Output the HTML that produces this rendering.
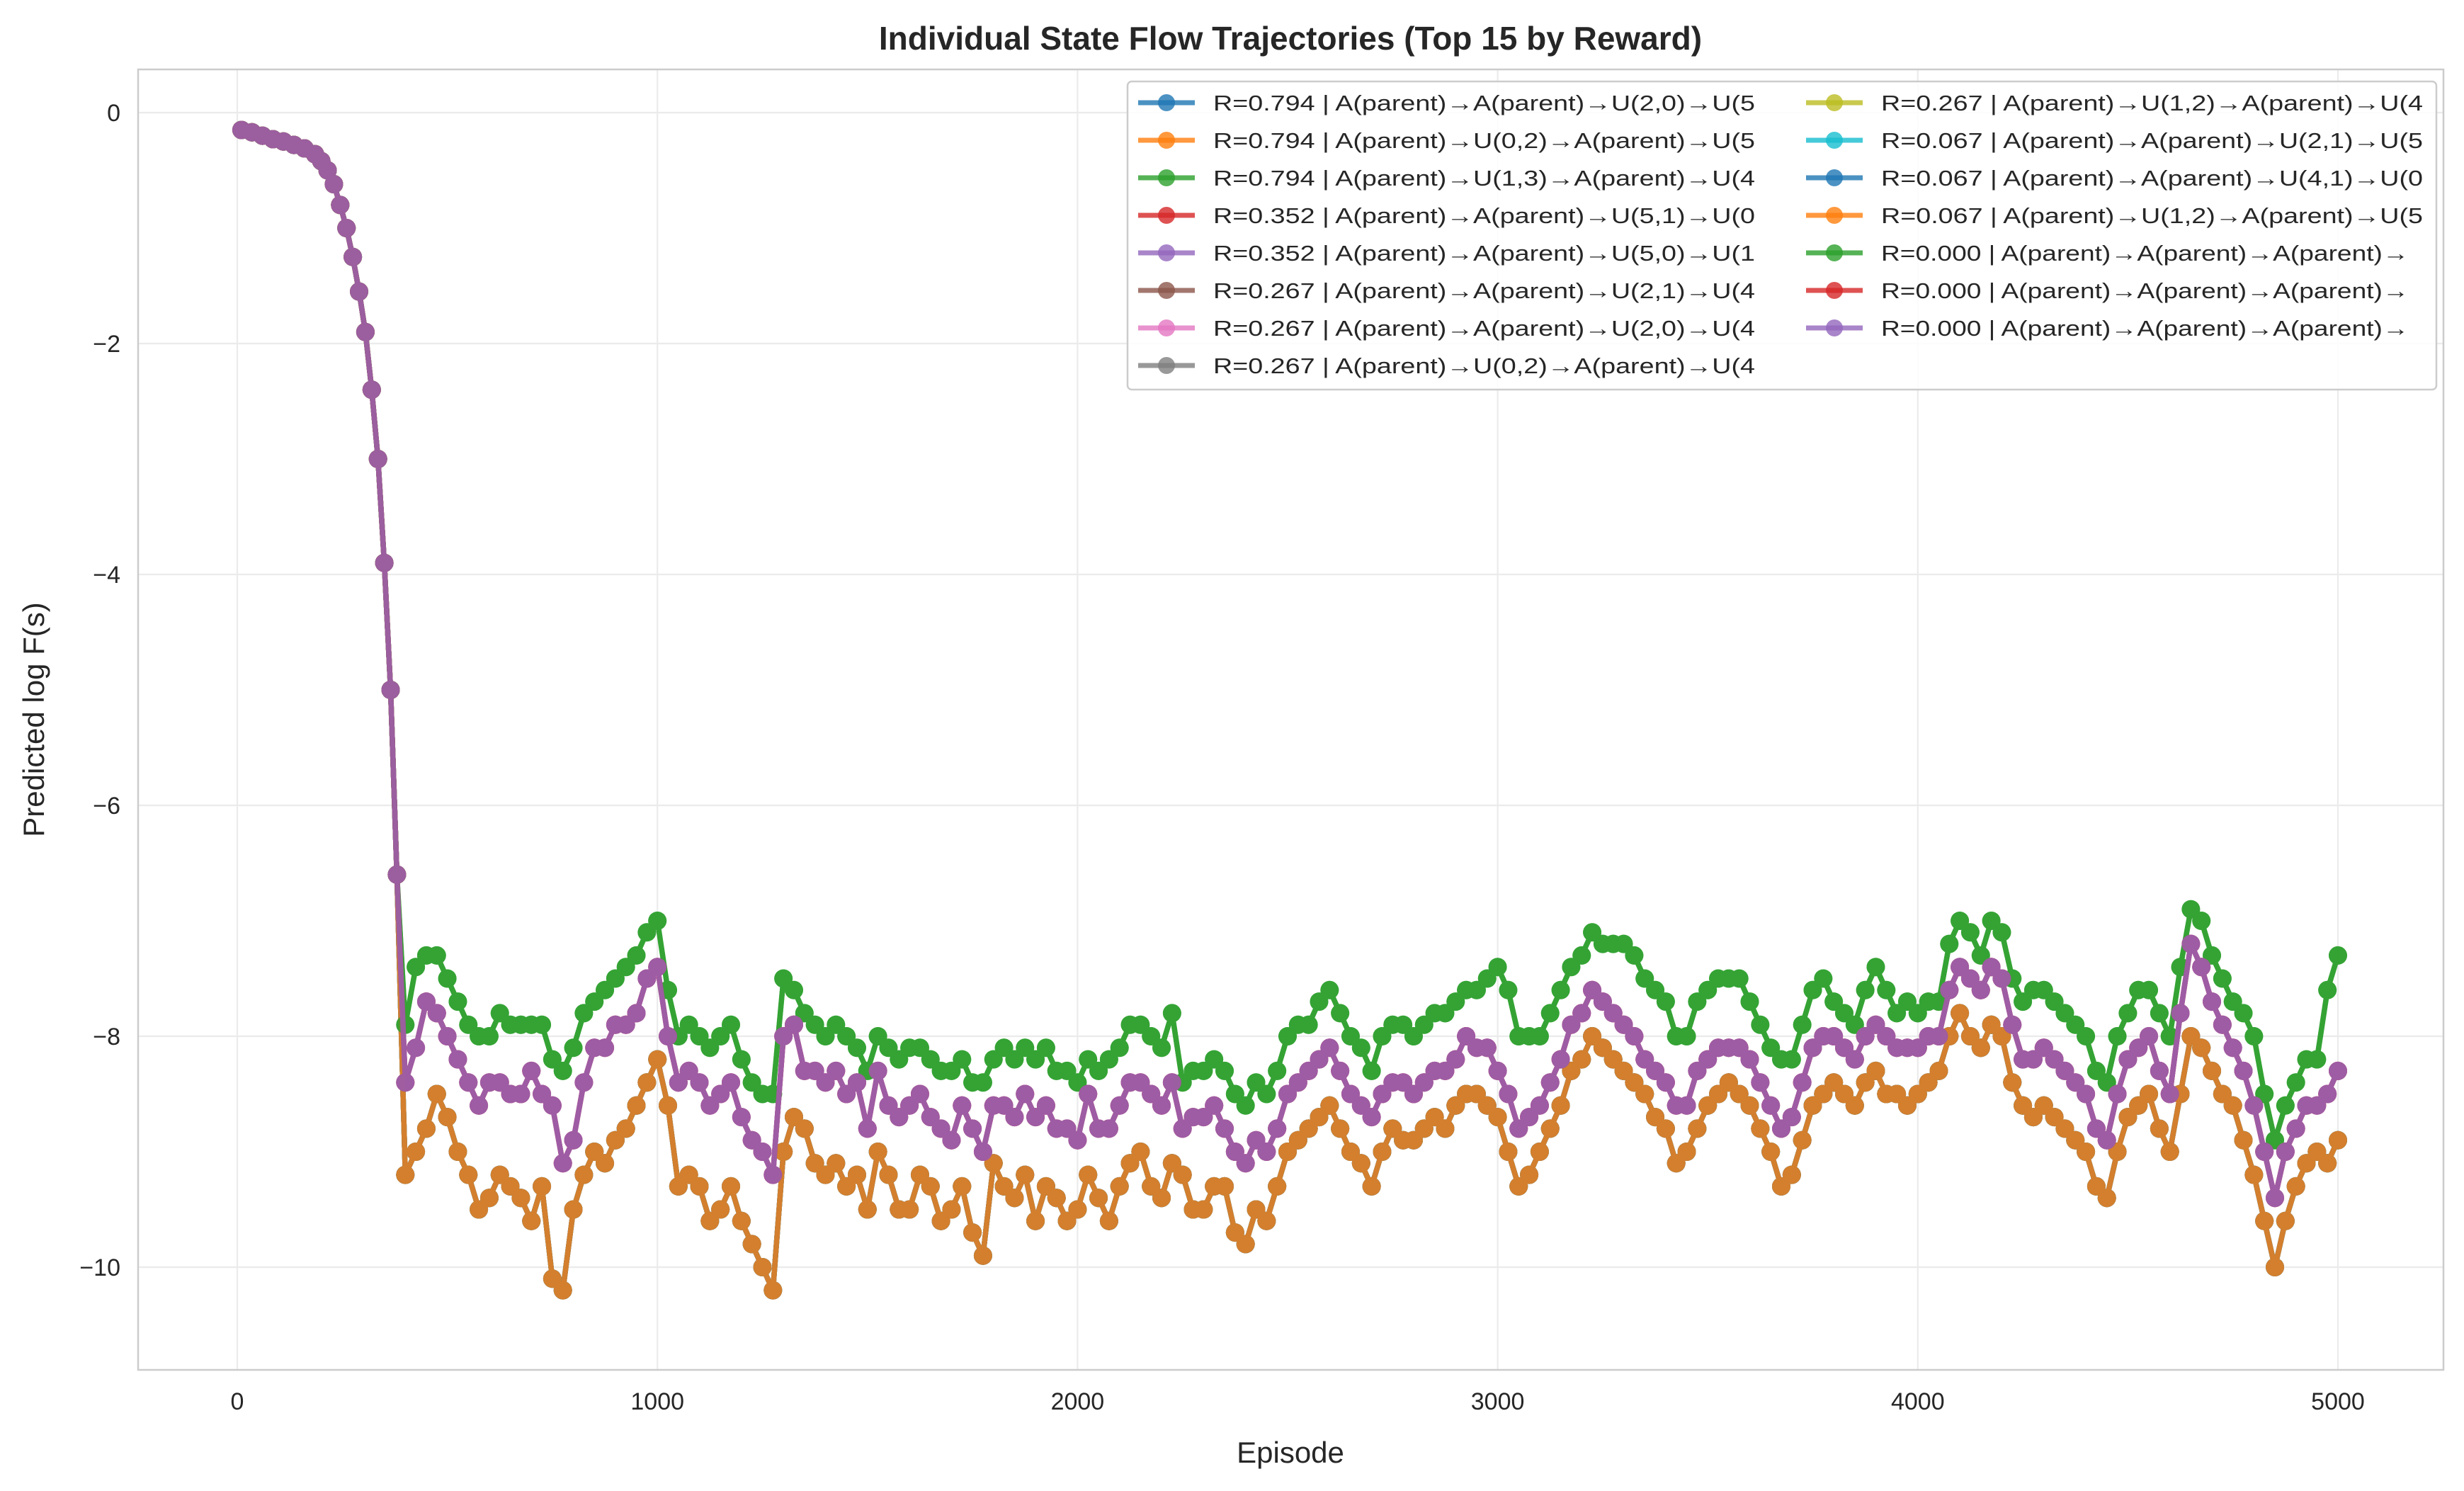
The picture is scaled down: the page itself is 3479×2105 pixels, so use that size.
<!DOCTYPE html>
<html><head><meta charset="utf-8"><style>
body{margin:0;background:#fff;}
svg{display:block;font-family:"Liberation Sans",Arial,sans-serif;}
</style></head><body>
<svg id="chart" width="3479" height="2105" viewBox="0 0 3479 2105">
<rect x="0" y="0" width="3479" height="2105" fill="#fff"/>
<text x="1822" y="70" text-anchor="middle" font-size="46" font-weight="bold" fill="#262626">Individual State Flow Trajectories (Top 15 by Reward)</text>
<g id="grid"></g>
<g id="series"></g>
<rect x="195" y="98" width="3255" height="1836" fill="none" stroke="#cccccc" stroke-width="2.5"/>
<g id="ticks"></g>
<text x="1822" y="2065" text-anchor="middle" font-size="42" fill="#262626">Episode</text>
<text x="62" y="1016" text-anchor="middle" font-size="42" fill="#262626" transform="rotate(-90 62 1016)">Predicted log F(s)</text>
<g id="legend"></g>
</svg>
<script>
const earlyEpisodes=[10,35,60,85,110,135,160,185,200,215,230,245,260,275,290,305,320,335,350,365,380];
const earlyValues=[-0.15,-0.17,-0.2,-0.23,-0.25,-0.28,-0.31,-0.36,-0.42,-0.5,-0.62,-0.8,-1.0,-1.25,-1.55,-1.9,-2.4,-3.0,-3.9,-5.0,-6.6];
const lateEpisodes=[];
for(let e=400;e<=5000;e+=25)lateEpisodes.push(e);
const lowGroup=[-9.2,-9.0,-8.8,-8.5,-8.7,-9.0,-9.2,-9.5,-9.4,-9.2,-9.3,-9.4,-9.6,-9.3,-10.1,-10.2,-9.5,-9.2,-9.0,-9.1,-8.9,-8.8,-8.6,-8.4,-8.2,-8.6,-9.3,-9.2,-9.3,-9.6,-9.5,-9.3,-9.6,-9.8,-10.0,-10.2,-9.0,-8.7,-8.8,-9.1,-9.2,-9.1,-9.3,-9.2,-9.5,-9.0,-9.2,-9.5,-9.5,-9.2,-9.3,-9.6,-9.5,-9.3,-9.7,-9.9,-9.1,-9.3,-9.4,-9.2,-9.6,-9.3,-9.4,-9.6,-9.5,-9.2,-9.4,-9.6,-9.3,-9.1,-9.0,-9.3,-9.4,-9.1,-9.2,-9.5,-9.5,-9.3,-9.3,-9.7,-9.8,-9.5,-9.6,-9.3,-9.0,-8.9,-8.8,-8.7,-8.6,-8.8,-9.0,-9.1,-9.3,-9.0,-8.8,-8.9,-8.9,-8.8,-8.7,-8.8,-8.6,-8.5,-8.5,-8.6,-8.7,-9.0,-9.3,-9.2,-9.0,-8.8,-8.6,-8.3,-8.2,-8.0,-8.1,-8.2,-8.3,-8.4,-8.5,-8.7,-8.8,-9.1,-9.0,-8.8,-8.6,-8.5,-8.4,-8.5,-8.6,-8.8,-9.0,-9.3,-9.2,-8.9,-8.6,-8.5,-8.4,-8.5,-8.6,-8.4,-8.3,-8.5,-8.5,-8.6,-8.5,-8.4,-8.3,-8.0,-7.8,-8.0,-8.1,-7.9,-8.0,-8.4,-8.6,-8.7,-8.6,-8.7,-8.8,-8.9,-9.0,-9.3,-9.4,-9.0,-8.7,-8.6,-8.5,-8.8,-9.0,-8.5,-8.0,-8.1,-8.3,-8.5,-8.6,-8.9,-9.2,-9.6,-10.0,-9.6,-9.3,-9.1,-9.0,-9.1,-8.9];
const midGroup=[-8.4,-8.1,-7.7,-7.8,-8.0,-8.2,-8.4,-8.6,-8.4,-8.4,-8.5,-8.5,-8.3,-8.5,-8.6,-9.1,-8.9,-8.4,-8.1,-8.1,-7.9,-7.9,-7.8,-7.5,-7.4,-8.0,-8.4,-8.3,-8.4,-8.6,-8.5,-8.4,-8.7,-8.9,-9.0,-9.2,-8.0,-7.9,-8.3,-8.3,-8.4,-8.3,-8.5,-8.4,-8.8,-8.3,-8.6,-8.7,-8.6,-8.5,-8.7,-8.8,-8.9,-8.6,-8.8,-9.0,-8.6,-8.6,-8.7,-8.5,-8.7,-8.6,-8.8,-8.8,-8.9,-8.5,-8.8,-8.8,-8.6,-8.4,-8.4,-8.5,-8.6,-8.4,-8.8,-8.7,-8.7,-8.6,-8.8,-9.0,-9.1,-8.9,-9.0,-8.8,-8.5,-8.4,-8.3,-8.2,-8.1,-8.3,-8.5,-8.6,-8.7,-8.5,-8.4,-8.4,-8.5,-8.4,-8.3,-8.3,-8.2,-8.0,-8.1,-8.1,-8.3,-8.5,-8.8,-8.7,-8.6,-8.4,-8.2,-7.9,-7.8,-7.6,-7.7,-7.8,-7.9,-8.0,-8.2,-8.3,-8.4,-8.6,-8.6,-8.3,-8.2,-8.1,-8.1,-8.1,-8.2,-8.4,-8.6,-8.8,-8.7,-8.4,-8.1,-8.0,-8.0,-8.1,-8.2,-8.0,-7.9,-8.0,-8.1,-8.1,-8.1,-8.0,-8.0,-7.6,-7.4,-7.5,-7.6,-7.4,-7.5,-7.9,-8.2,-8.2,-8.1,-8.2,-8.3,-8.4,-8.5,-8.8,-8.9,-8.5,-8.2,-8.1,-8.0,-8.3,-8.5,-7.8,-7.2,-7.4,-7.7,-7.9,-8.1,-8.3,-8.6,-9.0,-9.4,-9.0,-8.8,-8.6,-8.6,-8.5,-8.3];
const highGroup=[-7.9,-7.4,-7.3,-7.3,-7.5,-7.7,-7.9,-8.0,-8.0,-7.8,-7.9,-7.9,-7.9,-7.9,-8.2,-8.3,-8.1,-7.8,-7.7,-7.6,-7.5,-7.4,-7.3,-7.1,-7.0,-7.6,-8.0,-7.9,-8.0,-8.1,-8.0,-7.9,-8.2,-8.4,-8.5,-8.5,-7.5,-7.6,-7.8,-7.9,-8.0,-7.9,-8.0,-8.1,-8.3,-8.0,-8.1,-8.2,-8.1,-8.1,-8.2,-8.3,-8.3,-8.2,-8.4,-8.4,-8.2,-8.1,-8.2,-8.1,-8.2,-8.1,-8.3,-8.3,-8.4,-8.2,-8.3,-8.2,-8.1,-7.9,-7.9,-8.0,-8.1,-7.8,-8.4,-8.3,-8.3,-8.2,-8.3,-8.5,-8.6,-8.4,-8.5,-8.3,-8.0,-7.9,-7.9,-7.7,-7.6,-7.8,-8.0,-8.1,-8.3,-8.0,-7.9,-7.9,-8.0,-7.9,-7.8,-7.8,-7.7,-7.6,-7.6,-7.5,-7.4,-7.6,-8.0,-8.0,-8.0,-7.8,-7.6,-7.4,-7.3,-7.1,-7.2,-7.2,-7.2,-7.3,-7.5,-7.6,-7.7,-8.0,-8.0,-7.7,-7.6,-7.5,-7.5,-7.5,-7.7,-7.9,-8.1,-8.2,-8.2,-7.9,-7.6,-7.5,-7.7,-7.8,-7.9,-7.6,-7.4,-7.6,-7.8,-7.7,-7.8,-7.7,-7.7,-7.2,-7.0,-7.1,-7.3,-7.0,-7.1,-7.5,-7.7,-7.6,-7.6,-7.7,-7.8,-7.9,-8.0,-8.3,-8.4,-8.0,-7.8,-7.6,-7.6,-7.8,-8.0,-7.4,-6.9,-7.0,-7.3,-7.5,-7.7,-7.8,-8.0,-8.5,-8.9,-8.6,-8.4,-8.2,-8.2,-7.6,-7.3];
const seriesLabels=["R=0.794 | A(parent)→A(parent)→U(2,0)→U(5","R=0.794 | A(parent)→U(0,2)→A(parent)→U(5","R=0.794 | A(parent)→U(1,3)→A(parent)→U(4","R=0.352 | A(parent)→A(parent)→U(5,1)→U(0","R=0.352 | A(parent)→A(parent)→U(5,0)→U(1","R=0.267 | A(parent)→A(parent)→U(2,1)→U(4","R=0.267 | A(parent)→A(parent)→U(2,0)→U(4","R=0.267 | A(parent)→U(0,2)→A(parent)→U(4","R=0.267 | A(parent)→U(1,2)→A(parent)→U(4","R=0.067 | A(parent)→A(parent)→U(2,1)→U(5","R=0.067 | A(parent)→A(parent)→U(4,1)→U(0","R=0.067 | A(parent)→U(1,2)→A(parent)→U(5","R=0.000 | A(parent)→A(parent)→A(parent)→","R=0.000 | A(parent)→A(parent)→A(parent)→","R=0.000 | A(parent)→A(parent)→A(parent)→"];
const seriesValues=[lowGroup,lowGroup,highGroup,midGroup,midGroup,lowGroup,lowGroup,lowGroup,lowGroup,lowGroup,lowGroup,lowGroup,highGroup,midGroup,midGroup];
const xTicks=[0,1000,2000,3000,4000,5000];
const yTicks=[0,-2,-4,-6,-8,-10];
const colors=["#1f77b4","#ff7f0e","#2ca02c","#d62728","#9467bd","#8c564b","#e377c2","#7f7f7f","#bcbd22","#17becf","#1f77b4","#ff7f0e","#2ca02c","#d62728","#9467bd"];

const NS="http://www.w3.org/2000/svg";
const L=195,R=3450,T=98,B=1934;
function xs(e){return 335+e*(3301-335)/5000;}
function ys(v){return 159-v*163;}
function mk(tag,attrs,parent){const el=document.createElementNS(NS,tag);for(const k in attrs)el.setAttribute(k,attrs[k]);parent.appendChild(el);return el;}
const grid=document.getElementById('grid'),ticks=document.getElementById('ticks');
xTicks.forEach(t=>{
  const g=mk('line',{x1:xs(t),x2:xs(t),y1:T,y2:B,stroke:'#ebebeb','stroke-width':2.2},grid);
  
  
  const tx=mk('text',{x:xs(t),y:1990,'text-anchor':'middle','font-size':34,fill:'#262626'},ticks);
  tx.textContent=t;
  
  
});
yTicks.forEach(t=>{
  const g=mk('line',{x1:L,x2:R,y1:ys(t),y2:ys(t),stroke:'#ebebeb','stroke-width':2.2},grid);
  
  
  const tx=mk('text',{x:170,y:ys(t)+12,'text-anchor':'end','font-size':34,fill:'#262626'},ticks);
  tx.textContent=t===0?'0':'−'+Math.abs(t);
  
  
});
const allEpisodes=earlyEpisodes.concat(lateEpisodes);
const sl=document.getElementById('series');
seriesValues.forEach((vals,i)=>{
  const full=earlyValues.concat(vals);
  const g=mk('g',{opacity:0.8},sl);
  
  
  const pts=full.map((v,j)=>xs(allEpisodes[j]).toFixed(1)+','+ys(v).toFixed(1)).join(' ');
  const pl=mk('polyline',{points:pts,fill:'none',stroke:colors[i],'stroke-width':7.5,'stroke-linejoin':'round'},g);
  
  
  full.forEach((v,j)=>{
    const c=mk('circle',{cx:xs(allEpisodes[j]),cy:ys(v),r:13,fill:colors[i]},g);
    
    
  });
});
const lg=document.getElementById('legend');
const box=mk('rect',{x:1592,y:115,width:1848,height:435,rx:6,fill:'#fff','fill-opacity':0.85,stroke:'#cccccc','stroke-width':2.5},lg);


seriesLabels.forEach((lab,i)=>{
  const col=i<8?0:1,row=i<8?i:i-8;
  const mx=col===0?1647:2590,tx=col===0?1713:2656,cy=145+row*53;
  const g=mk('g',{},lg);
  
  
  mk('line',{x1:mx-40,x2:mx+40,y1:cy,y2:cy,stroke:colors[i],'stroke-width':7,opacity:0.8},g);
  mk('circle',{cx:mx,cy:cy,r:12,fill:colors[i],opacity:0.8},g);
  const full=lab.endsWith('→')?745:765;
  const t=mk('text',{x:tx,y:cy+11,'font-size':31,fill:'#262626',textLength:full,lengthAdjust:'spacingAndGlyphs'},g);
  t.textContent=lab;
});
</script>
</body></html>
